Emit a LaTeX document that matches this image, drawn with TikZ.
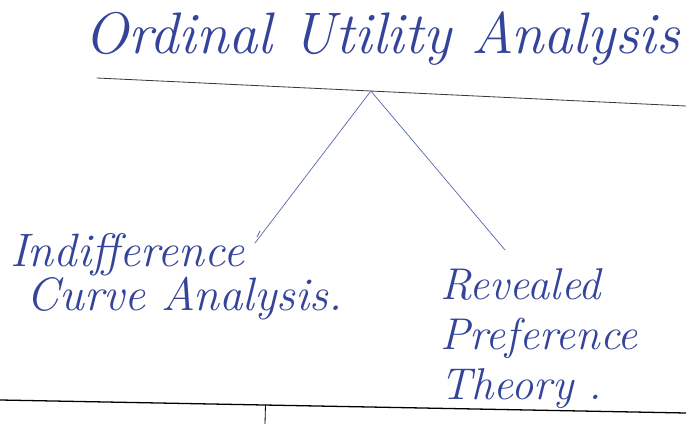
\documentclass[tikz,border=0pt]{standalone}
\usetikzlibrary{calc,positioning}
\definecolor{InkBlue}{HTML}{34449A}
\definecolor{PenLine}{HTML}{5866AE}
\definecolor{RuleGray}{HTML}{3A3A3A}

\begin{document}
\begin{tikzpicture}[x=0.03cm,y=-0.03cm,line cap=round,line join=round,
  hand/.style={text=InkBlue,inner sep=0pt,font=\itshape\fontsize{38}{44}\selectfont,align=left},
  branch/.style={PenLine,line width=0.6pt}]
  \useasboundingbox (0,0) rectangle (686,424);
  \node[hand,anchor=base west,font=\itshape\fontsize{50}{56}\selectfont] (title) at (84,54) {Ordinal Utility Analysis};
  \coordinate (ruleL) at (97,78);
  \coordinate (ruleR) at (686,106);
  \coordinate (apex) at ($(ruleL)!0.465!(ruleR)$);
  \draw[RuleGray,line width=0.7pt] (ruleL)--(ruleR);
  \node[hand,anchor=north west,font=\itshape\fontsize{40}{34}\selectfont] (icurve) at (10,233) {Indifference\\\hspace{0.35em}Curve Analysis.};
  \node[hand,anchor=north west,font=\itshape\fontsize{38}{43}\selectfont] (rpref) at (440,268) {Revealed\\Preference\\Theory\ .};
  \coordinate (leftEnd) at (255,243);
  \coordinate (rightEnd) at (505,250);
  \draw[branch] (apex)--(leftEnd) ($(leftEnd)+(2,-6)$)--($(leftEnd)+(5,-12)$);
  \draw[branch] (apex)--(rightEnd);
  % bottom edge of the sheet
  \coordinate (edgeL) at (0,400);
  \coordinate (edgeR) at (686,413);
  \coordinate (tick) at ($(edgeL)!0.387!(edgeR)$);
  \draw[black,line width=1.1pt] (edgeL)--(edgeR);
  \draw[black,line width=0.7pt] (tick)--(265,424);
\end{tikzpicture}
\end{document}
